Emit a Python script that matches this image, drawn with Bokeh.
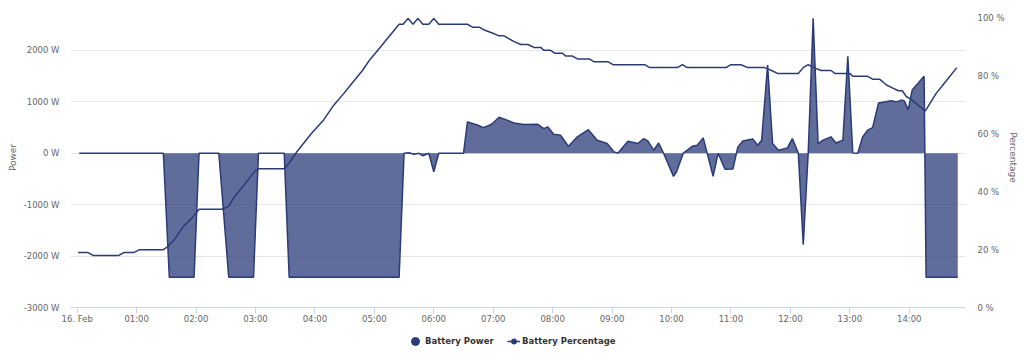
import pandas as pd
from bokeh.plotting import figure
from bokeh.layouts import column
from bokeh.models import (Range1d, LinearAxis, FixedTicker, PrintfTickFormatter,
                          DatetimeTickFormatter, Legend, LegendItem, ColumnDataSource)
from bokeh.embed import file_html
from bokeh.resources import INLINE

DAY = "2024-02-16"

power_times = ["00:02", "01:27", "01:33", "01:58", "02:03", "02:23", "02:33", "02:58",
               "03:03", "03:29", "03:34", "05:25", "05:30", "05:35", "05:40", "05:45",
               "05:49", "05:55", "06:00", "06:05", "06:30", "06:34", "06:44", "06:50",
               "06:58", "07:06", "07:14", "07:21", "07:31", "07:45", "07:51", "07:55",
               "08:01", "08:08", "08:16", "08:25", "08:36", "08:45", "08:55", "09:02",
               "09:06", "09:16", "09:26", "09:32", "09:36", "09:42", "09:47", "09:52",
               "10:02", "10:05", "10:12", "10:21", "10:26", "10:32", "10:42", "10:47",
               "10:54", "11:02", "11:07", "11:12", "11:22", "11:27", "11:31", "11:37",
               "11:42", "11:48", "11:57", "12:02", "12:08", "12:13", "12:18", "12:23",
               "12:28", "12:33", "12:41", "12:46", "12:53", "12:58", "13:03", "13:08",
               "13:13", "13:18", "13:23", "13:29", "13:42", "13:47", "13:52", "13:55",
               "13:59", "14:03", "14:15", "14:17", "14:49"]
power_values = [0, 0, -2410, -2410, 0, 0, -2410, -2410,
                0, 0, -2410, -2410, 0, 10, -20, 0,
                -50, 0, -360, 0, 0, 610, 550, 500,
                560, 700, 645, 590, 560, 565, 480, 515,
                370, 350, 135, 320, 460, 255, 190, 25,
                5, 235, 190, 285, 240, 60, 200, 0,
                -450, -365, 5, 135, 155, 300, -450, 0,
                -310, -305, 125, 240, 280, 155, 255, 1715,
                190, 60, 105, 285, 5, -1780, 0, 2625,
                190, 255, 320, 200, 255, 1885, 5, 0,
                320, 450, 500, 980, 1020, 1000, 1035, 1020,
                850, 1230, 1500, -2410, -2410]

pct_times = ["00:01", "00:11", "00:16", "00:42", "00:47", "00:57", "01:03", "01:27",
             "01:31", "01:37", "01:47", "01:56", "02:03", "02:26", "02:33", "02:38",
             "02:50", "02:59", "03:03", "03:29", "03:34", "03:42", "03:56", "04:09",
             "04:19", "04:29", "04:36", "04:48", "04:56", "05:01", "05:13", "05:25",
             "05:29", "05:34", "05:39", "05:44", "05:49", "05:55", "06:00", "06:05",
             "06:34", "06:39", "06:46", "06:51", "06:59", "07:06", "07:11", "07:21",
             "07:28", "07:35", "07:41", "07:48", "07:51", "07:58", "08:02", "08:10",
             "08:13", "08:20", "08:25", "08:37", "08:42", "08:56", "09:01", "09:33",
             "09:38", "10:06", "10:11", "10:16", "10:55", "11:00", "11:10", "11:17",
             "11:34", "11:41", "11:47", "12:08", "12:13", "12:18", "12:24", "12:31",
             "12:41", "12:45", "13:00", "13:03", "13:18", "13:23", "13:30", "13:37",
             "13:43", "13:49", "13:53", "13:57", "14:02", "14:09", "14:16", "14:18",
             "14:27", "14:34", "14:48"]
pct_values = [19, 19, 18, 18, 19, 19, 20, 20,
              21, 23, 28, 31, 34, 34, 35, 38,
              43, 47, 48, 48, 50, 54, 60, 65,
              70, 74, 77, 82, 86, 88, 93, 98,
              98, 100, 98, 100, 98, 98, 100, 98,
              98, 97, 97, 96, 95, 94, 94, 92,
              91, 91, 90, 90, 89, 89, 88, 88,
              87, 87, 86, 86, 85, 85, 84, 84,
              83, 83, 84, 83, 83, 84, 84, 83,
              83, 82, 81, 81, 83, 84, 83, 82,
              82, 81, 81, 80, 80, 79, 79, 77,
              76, 75, 75, 73, 72, 70, 68, 69,
              74, 77, 83]

x_tick_hours = list(range(15))
power_ticks = [-3000, -2000, -1000, 0, 1000, 2000]
pct_ticks = [0, 20, 40, 60, 80, 100]

assert len(power_times) == len(power_values)
assert len(pct_times) == len(pct_values)

SERIES = "#2b3b78"
TICK_COLOR = "#666666"
FONT = "DejaVu Sans"


def ts(hm):
    return pd.Timestamp(f"{DAY} {hm}")


power_src = ColumnDataSource(dict(t=[ts(h) for h in power_times], p=power_values))
pct_src = ColumnDataSource(dict(t=[ts(h) for h in pct_times], v=pct_values))

x_start = ts("00:00") - pd.Timedelta(minutes=6.76)
x_end = ts("00:00") + pd.Timedelta(minutes=896.8)

p = figure(width=1024, height=330, x_axis_type="datetime",
           output_backend="svg", toolbar_location=None,
           x_range=Range1d(x_start, x_end), y_range=Range1d(-3000, 2836),
           min_border_left=70, min_border_right=59, min_border_top=7,
           min_border_bottom=23)
p.extra_y_ranges = {"pct": Range1d(0, 103.8)}
p.outline_line_color = None
p.background_fill_color = "white"
p.border_fill_color = "white"

# area (battery power)
p.varea(x="t", y1=0, y2="p", source=power_src, fill_color=SERIES, fill_alpha=0.75)
p.line(x="t", y="p", source=power_src, line_color=SERIES, line_width=1.5)

# battery percentage line
p.line(x="t", y="v", source=pct_src, line_color=SERIES, line_width=1.5,
       y_range_name="pct")

# x axis
ms0 = ts("00:00").value // 10**6
x_ticks = [ms0 + h * 3600000 for h in x_tick_hours]
xa = p.xaxis[0]
xa.ticker = FixedTicker(ticks=x_ticks)
xa.formatter = DatetimeTickFormatter(hours="%H:%M", hourmin="%H:%M", minutes="%H:%M",
                                     minsec="%H:%M", days="%H:%M")
xa.major_label_overrides = {ms0: "16. Feb"}
xa.axis_line_color = "#ccd6eb"
xa.major_tick_line_color = "#ccd6eb"
xa.major_tick_out = 6
xa.major_tick_in = 0
xa.minor_tick_line_color = None
xa.major_label_standoff = 0
xa.major_label_text_font = FONT
xa.major_label_text_font_size = "8.5px"
xa.major_label_text_color = TICK_COLOR

p.xgrid.visible = False
p.ygrid.ticker = FixedTicker(ticks=power_ticks)
p.ygrid.grid_line_color = "#e6e6e6"

# left axis
ya = p.yaxis[0]
ya.ticker = FixedTicker(ticks=power_ticks)
ya.formatter = PrintfTickFormatter(format="%d W")
ya.axis_label = "Power"
ya.axis_line_color = None
ya.major_tick_line_color = None
ya.minor_tick_line_color = None
ya.major_label_standoff = 5
ya.axis_label_standoff = 3
ya.major_label_text_font = FONT
ya.major_label_text_font_size = "8.5px"
ya.major_label_text_color = TICK_COLOR
ya.axis_label_text_font = FONT
ya.axis_label_text_font_size = "9px"
ya.axis_label_text_font_style = "normal"
ya.axis_label_text_color = TICK_COLOR

# right axis
ra = LinearAxis(y_range_name="pct", axis_label="Percentage",
                ticker=FixedTicker(ticks=pct_ticks),
                formatter=PrintfTickFormatter(format="%d %%"))
ra.axis_line_color = None
ra.major_tick_line_color = None
ra.minor_tick_line_color = None
ra.major_label_standoff = 6
ra.axis_label_standoff = 0
ra.major_label_text_font = FONT
ra.major_label_text_font_size = "8.5px"
ra.major_label_text_color = TICK_COLOR
ra.axis_label_text_font = FONT
ra.axis_label_text_font_size = "9px"
ra.axis_label_text_font_style = "normal"
ra.axis_label_text_color = TICK_COLOR
p.add_layout(ra, "right")

# ---- legend strip (separate small figure under the chart) ----
lg = figure(width=1024, height=23, output_backend="svg", toolbar_location=None,
            x_range=Range1d(0, 1024), y_range=Range1d(0, 23),
            x_axis_location=None, y_axis_location=None,
            min_border=0, min_border_left=0, min_border_right=0,
            min_border_top=0, min_border_bottom=0)
lg.outline_line_color = None
lg.grid.visible = False
lg.background_fill_color = "white"
lg.border_fill_color = "white"
# glyphs used only for the legend symbols (their data lie outside this strip's range)
leg_circle = lg.scatter(x="t", y="p", source=power_src, marker="circle",
                        fill_color=SERIES, line_color=SERIES)
leg_line = lg.line(x="t", y="v", source=pct_src, line_color=SERIES, line_width=1.5)
leg_marker = lg.scatter(x="t", y="v", source=pct_src, marker="circle",
                        fill_color=SERIES, line_color=SERIES)

common = dict(orientation="horizontal", padding=0, margin=0, spacing=0,
              glyph_height=22, label_height=22, border_line_color=None,
              background_fill_alpha=0, label_text_font=FONT,
              label_text_font_style="bold", label_text_font_size="8.5px",
              label_text_color="#333333")
leg1 = Legend(items=[LegendItem(label="Battery Power", renderers=[leg_circle])],
              location=(335, 1), glyph_width=20, label_standoff=0, **common)
leg2 = Legend(items=[LegendItem(label="Battery Percentage",
                                renderers=[leg_line, leg_marker])],
              location=(437, 1), glyph_width=13, label_standoff=2, **common)
lg.add_layout(leg1)
lg.add_layout(leg2)

layout = column(p, lg, spacing=0)
open("out.html", "w").write(file_html(layout, INLINE))
